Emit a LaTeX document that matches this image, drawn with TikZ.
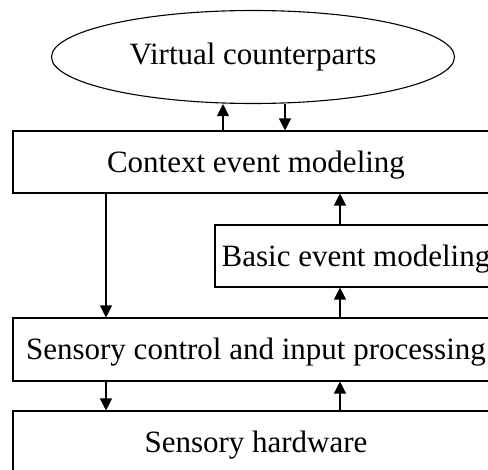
\documentclass[tikz,border=0pt]{standalone}
\usepackage{fontspec}
\setmainfont{Liberation Serif}
\usetikzlibrary{shapes.geometric,arrows.meta}
\tikzset{
  layer/.style={draw, line width=1.1pt, rectangle, minimum height=62pt, inner sep=0pt,
    text height=21pt, text depth=0pt, font=\fontsize{31}{37}\selectfont},
  arr/.style={line width=1.2pt, -{Triangle[length=12pt,width=12pt]}}
}
\begin{document}
\begin{tikzpicture}[x=1pt,y=-1pt]
\useasboundingbox (0,0) rectangle (488,470);
\clip (0,0) rectangle (488,470);
\node[draw, ellipse, line width=1.1pt, minimum width=403pt, minimum height=93pt, inner sep=0pt,
  font=\fontsize{31}{37}\selectfont] (vc) at (253,57) {Virtual counterparts};
\node[layer, minimum width=486pt] (ctx) at (256,162) {Context event modeling};
\node[layer, minimum width=282pt] (basic) at (356,256) {Basic event modeling};
\node[layer, minimum width=486pt, minimum height=63pt] (sens) at (256,349.5) {Sensory control and input processing};
\node[layer, minimum width=486pt] (hw) at (256,442) {Sensory hardware};
\coordinate (colA) at (106,0);
\coordinate (colB) at (223,0);
\coordinate (colC) at (285,0);
\coordinate (colD) at (340,0);
\path[draw,arr] (ctx.north -| colB) -- (vc.south -| colB);
\path[draw,arr] (vc.south -| colC) -- (ctx.north -| colC);
\path[draw,arr] (ctx.south -| colA) -- (sens.north -| colA);
\path[draw,arr] (basic.north -| colD) -- (ctx.south -| colD);
\path[draw,arr] (sens.north -| colD) -- (basic.south -| colD);
\path[draw,arr] (sens.south -| colA) -- (hw.north -| colA);
\path[draw,arr] (hw.north -| colD) -- (sens.south -| colD);
\end{tikzpicture}
\end{document}
